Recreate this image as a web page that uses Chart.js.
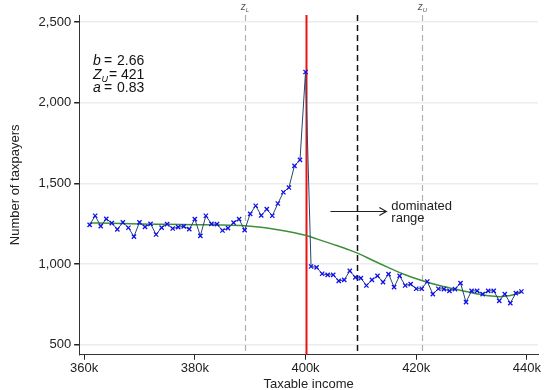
<!DOCTYPE html>
<html>
<head>
<meta charset="utf-8">
<script src="https://cdn.jsdelivr.net/npm/chart.js@4/dist/chart.umd.min.js"></script>
<style>
  body { margin: 0; background: #fff; }
  #wrap { width: 546px; height: 390px; }
</style>
</head>
<body>
<div id="wrap"><canvas id="chart" width="546" height="390"></canvas></div>
<script>
// taxable income bins (thousands)
var incomeBins = [361, 362, 363, 364, 365, 366, 367, 368, 369, 370,
  371, 372, 373, 374, 375, 376, 377, 378, 379, 380,
  381, 382, 383, 384, 385, 386, 387, 388, 389, 390,
  391, 392, 393, 394, 395, 396, 397, 398, 399, 400,
  401, 402, 403, 404, 405, 406, 407, 408, 409, 410,
  411, 412, 413, 414, 415, 416, 417, 418, 419, 420,
  421, 422, 423, 424, 425, 426, 427, 428, 429, 430,
  431, 432, 433, 434, 435, 436, 437, 438, 439];

// number of taxpayers per bin
var taxpayers = [1243, 1299, 1235, 1280, 1254, 1215, 1258, 1225, 1170, 1258,
  1230, 1249, 1183, 1226, 1247, 1220, 1229, 1233, 1216, 1278,
  1175, 1299, 1249, 1247, 1208, 1223, 1257, 1278, 1210, 1311,
  1361, 1301, 1340, 1299, 1375, 1445, 1474, 1608, 1645, 2190,
  985, 979, 940, 933, 933, 896, 902, 958, 917, 913,
  867, 902, 927, 888, 938, 857, 927, 867, 876, 847,
  847, 892, 814, 847, 845, 834, 845, 882, 764, 834,
  834, 814, 834, 834, 772, 814, 758, 820, 830];

// counterfactual fit (green curve)
var fitIncome = [361, 365, 370, 375, 380, 385, 389, 392, 395, 398, 400, 402, 405,
  408, 410, 412, 415, 418, 421, 424, 427, 429, 431, 433, 435, 437, 439];
var fitTaxpayers = [1255, 1252, 1248, 1246, 1244, 1242, 1237, 1228, 1213, 1194, 1178, 1156, 1122,
  1086, 1058, 1025, 978, 934, 898, 868, 845, 830, 815, 803, 798, 805, 825];

var xTicks = [360, 380, 400, 420, 440];
var yTicks = [500, 1000, 1500, 2000, 2500];

var zLower = 389;
var kink = 400;
var dominatedEdge = 409.3;
var zUpper = 421;
var arrowFrom = 404.5, arrowTo = 414.6, arrowLevel = 1330;

var params = [['b', '', '2.66'], ['Z', 'U', '421'], ['a', '', '0.83']];

var FONT = '"Liberation Sans", Arial, sans-serif';

function toXY(xs, ys) {
  return xs.map(function (x, i) { return { x: x, y: ys[i] }; });
}

var overlay = {
  id: 'overlay',
  beforeDatasetsDraw: function (chart) {
    var c = chart.ctx, a = chart.chartArea;
    var sx = chart.scales.x;
    function vline(v, color, width, dash) {
      var px = Math.round(sx.getPixelForValue(v)) + 0.5;
      c.save();
      c.strokeStyle = color;
      c.lineWidth = width;
      c.setLineDash(dash);
      c.beginPath();
      c.moveTo(px, a.top);
      c.lineTo(px, a.bottom);
      c.stroke();
      c.restore();
    }
    vline(zLower, '#b0b0b0', 1.2, [6, 4]);
    vline(zUpper, '#b0b0b0', 1.2, [6, 4]);
    vline(dominatedEdge, '#111', 1.5, [6, 4]);
    vline(kink, '#ee1111', 2, []);
  },
  afterDatasetsDraw: function (chart) {
    var c = chart.ctx;
    var sx = chart.scales.x, sy = chart.scales.y;
    c.save();
    // z labels above the plot
    [[zLower, 'L'], [zUpper, 'U']].forEach(function (z) {
      var px = sx.getPixelForValue(z[0]);
      c.fillStyle = '#555';
      c.font = 'italic 10px ' + FONT;
      c.textBaseline = 'alphabetic';
      c.textAlign = 'left';
      c.fillText('z', px - 4, 10);
      c.font = 'italic 6px ' + FONT;
      c.fillText(z[1], px + 1, 12);
    });
    // parameter box
    c.fillStyle = '#111';
    params.forEach(function (p, i) {
      var base = 65 + i * 13.7;
      c.font = 'italic 14px ' + FONT;
      c.textAlign = 'left';
      c.fillText(p[0], 93, base);
      var w = c.measureText(p[0]).width;
      if (p[1]) {
        c.font = 'italic 9px ' + FONT;
        c.fillText(p[1], 93 + w, base + 3);
      }
      c.font = '14px ' + FONT;
      c.fillText('=', p[1] ? 109 : 104, base);
      c.fillText(p[2], p[1] ? 121 : 117, base);
    });
    // arrow with text
    var x1 = sx.getPixelForValue(arrowFrom), x2 = sx.getPixelForValue(arrowTo);
    var ya = Math.round(sy.getPixelForValue(arrowLevel)) + 0.5;
    c.strokeStyle = '#222';
    c.lineWidth = 1.2;
    c.beginPath();
    c.moveTo(x1, ya);
    c.lineTo(x2, ya);
    c.stroke();
    c.beginPath();
    c.moveTo(x2 - 7, ya - 4);
    c.lineTo(x2, ya);
    c.lineTo(x2 - 7, ya + 4);
    c.stroke();
    c.font = '13px ' + FONT;
    c.fillStyle = '#222';
    c.fillText('dominated', x2 + 5, ya - 2);
    c.fillText('range', x2 + 5, ya + 10);
    c.restore();
  }
};

new Chart(document.getElementById('chart'), {
  type: 'line',
  data: {
    datasets: [{
      label: 'Taxpayers',
      data: toXY(incomeBins, taxpayers),
      borderColor: '#26466e',
      borderWidth: 1,
      pointStyle: 'crossRot',
      pointRadius: 3,
      pointBorderColor: '#1010ee',
      pointBorderWidth: 1.3,
      tension: 0,
      order: 1
    }, {
      label: 'Fit',
      data: toXY(fitIncome, fitTaxpayers),
      borderColor: '#3f8f3a',
      borderWidth: 1.5,
      pointRadius: 0,
      cubicInterpolationMode: 'monotone',
      order: 2
    }]
  },
  options: {
    responsive: false,
    animation: false,
    layout: { padding: { top: 15, right: 8, left: 8, bottom: -1 } },
    plugins: { legend: { display: false }, tooltip: { enabled: false } },
    scales: {
      x: {
        type: 'linear',
        min: 359.1,
        max: 442,
        afterBuildTicks: function (s) { s.ticks = xTicks.map(function (v) { return { value: v }; }); },
        ticks: {
          color: '#222',
          font: { family: FONT, size: 13 },
          padding: 1,
          callback: function (v) { return v + 'k'; }
        },
        grid: { color: 'rgba(0,0,0,0)', tickColor: '#222', tickLength: 5, drawOnChartArea: false },
        border: { color: '#333', width: 1 },
        title: { display: true, text: 'Taxable income', color: '#222', font: { family: FONT, size: 13, lineHeight: 1.05 }, padding: { top: 0, bottom: 0 } }
      },
      y: {
        min: 438,
        max: 2543,
        afterBuildTicks: function (s) { s.ticks = yTicks.map(function (v) { return { value: v }; }); },
        ticks: {
          color: '#222',
          font: { family: FONT, size: 13 },
          padding: 3,
          callback: function (v) { return v.toLocaleString('en-US'); }
        },
        grid: { color: '#e8eeee', lineWidth: 1.5, tickColor: '#222', tickLength: 5 },
        border: { color: '#333', width: 1 },
        title: { display: true, text: 'Number of taxpayers', color: '#222', font: { family: FONT, size: 13 }, padding: { top: 0, bottom: 12 } }
      }
    }
  },
  plugins: [overlay]
});
</script>
</body>
</html>
